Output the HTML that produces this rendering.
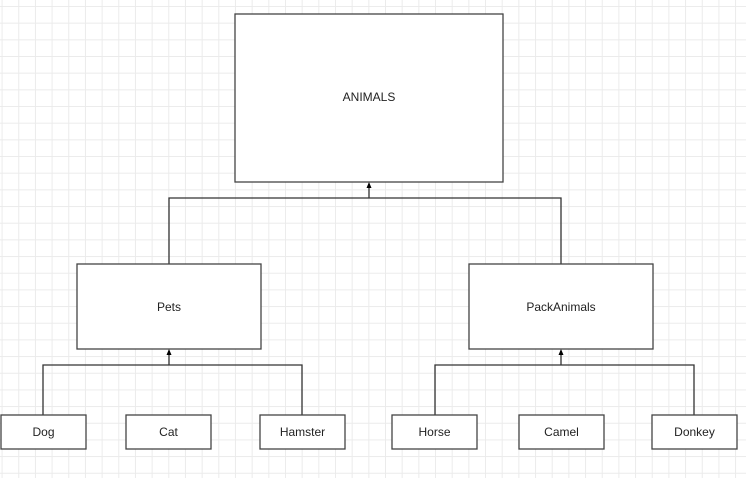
<!DOCTYPE html>
<html><head><style>
html,body{margin:0;padding:0;background:#fff;}
body{width:746px;height:478px;overflow:hidden;}
</style></head><body>
<svg width="746" height="478" xmlns="http://www.w3.org/2000/svg" font-family="Liberation Sans, Arial, sans-serif">
<defs>
<pattern id="g" x="1.6" y="6" width="16.67" height="16.67" patternUnits="userSpaceOnUse">
<path d="M0 0.5H16.67M0.5 0V16.67" stroke="#ebebeb" stroke-width="1" fill="none"/>
</pattern>
</defs>
<rect width="746" height="478" fill="url(#g)"/>
<g stroke="#333" stroke-width="1.3" fill="none">
<path d="M169 264V198H561V264M369 198V186"/>
<path d="M43 415V365H302V415M169 365V353"/>
<path d="M435 415V365H694V415M561 365V353"/>
</g>
<g fill="#000">
<path d="M369 182l-2.5 6h5z"/>
<path d="M169 349l-2.5 6h5z"/>
<path d="M561 349l-2.5 6h5z"/>
</g>
<g stroke="#444" stroke-width="1.3" fill="#fff">
<rect x="235" y="14" width="268" height="168"/>
<rect x="77" y="264" width="184" height="85"/>
<rect x="469" y="264" width="184" height="85"/>
<rect x="1" y="415" width="85" height="34"/>
<rect x="126" y="415" width="85" height="34"/>
<rect x="260" y="415" width="85" height="34"/>
<rect x="392" y="415" width="85" height="34"/>
<rect x="519" y="415" width="85" height="34"/>
<rect x="652" y="415" width="85" height="34"/>
</g>
<g font-size="12" fill="#222" text-anchor="middle">
<text x="369" y="101">ANIMALS</text>
<text x="169" y="311">Pets</text>
<text x="561" y="311">PackAnimals</text>
<text x="43.5" y="436">Dog</text>
<text x="168.5" y="436">Cat</text>
<text x="302.5" y="436">Hamster</text>
<text x="434.5" y="436">Horse</text>
<text x="561.5" y="436">Camel</text>
<text x="694.5" y="436">Donkey</text>
</g>
</svg>
</body></html>
